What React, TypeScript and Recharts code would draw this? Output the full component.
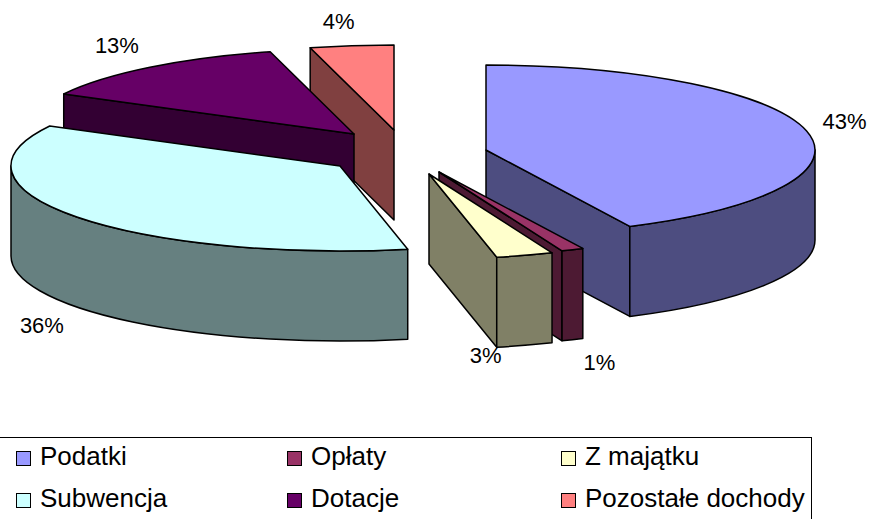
import React from "react";
import { PieChart, Pie, Legend } from "recharts";

const categories = ["Podatki", "Opłaty", "Z majątku", "Subwencja", "Dotacje", "Pozostałe dochody"];
const shares = [42.8, 1.1, 2.8, 36.1, 13.1, 4.1];
const topColors = ["#9999FF", "#993366", "#FFFFCC", "#CCFFFF", "#660066", "#FF8080"];
const wallColors = ["#4D4D80", "#4D1A33", "#808066", "#668080", "#330033", "#804040"];

// Explosion of each slice from the pie's centre, and label placement relative to the rim.
const explodeX = [86, 39, 29, -60, -46, -6];
const explodeY = [0, 22, 24, 16, -16, -20];
const labelShiftX = [38, 27, -39, -35, -33, -13];
const labelShiftY = [-2, 120, 108, 116, -14, -17];
// Back-to-front painting order of the slices.
const paintOrder = [5, 4, 3, 0, 1, 2];

const WIDTH = 869;
const HEIGHT = 519;
const CX = 400;
const CY = 150;
const RADIUS = 329;
const TILT = 85 / 329;
const DEPTH = 90;
const table = categories.map((name, i) => ({ name, value: shares[i] }));
const rad = (d: number) => (d * Math.PI) / 180;

function Slice({ props, i }: { props: any; i: number }) {
  const cx = props.cx + explodeX[i];
  const cy = props.cy + explodeY[i];
  const rx = props.outerRadius;
  const ry = rx * TILT;
  const ts = 90 - props.startAngle;
  const te = 90 - props.endAngle;
  const px = (t: number) => cx + rx * Math.sin(rad(t));
  const py = (t: number) => cy - ry * Math.cos(rad(t));
  const stroke = { stroke: "#000", strokeWidth: 1.5, strokeLinejoin: "round" as const };
  const face = (t: number) =>
    `M${cx},${cy}L${px(t)},${py(t)}L${px(t)},${py(t) + DEPTH}L${cx},${cy + DEPTH}Z`;
  const wallStart = Math.max(ts, 90);
  const wallEnd = Math.min(te, 270);
  return (
    <g>
      {Math.sin(rad(ts)) < -1e-6 && <path d={face(ts)} fill={wallColors[i]} {...stroke} />}
      {Math.sin(rad(te)) > 1e-6 && <path d={face(te)} fill={wallColors[i]} {...stroke} />}
      {wallEnd > wallStart && (
        <path
          d={`M${px(wallStart)},${py(wallStart)}A${rx},${ry} 0 0 1 ${px(wallEnd)},${py(wallEnd)}L${px(wallEnd)},${py(wallEnd) + DEPTH}A${rx},${ry} 0 0 0 ${px(wallStart)},${py(wallStart) + DEPTH}Z`}
          fill={wallColors[i]}
          {...stroke}
        />
      )}
      <path
        d={`M${cx},${cy}L${px(ts)},${py(ts)}A${rx},${ry} 0 ${te - ts > 180 ? 1 : 0} 1 ${px(te)},${py(te)}Z`}
        fill={topColors[i]}
        {...stroke}
      />
    </g>
  );
}

function percentLabel(p: any) {
  const i = categories.indexOf(p.name);
  const t = 90 - p.midAngle;
  const x = p.cx + explodeX[i] + p.outerRadius * Math.sin(rad(t)) + labelShiftX[i];
  const y = p.cy + explodeY[i] - p.outerRadius * TILT * Math.cos(rad(t)) + labelShiftY[i];
  return (
    <text key={p.name} x={x} y={y} textAnchor="middle" fontFamily="'Liberation Sans', Arial, sans-serif" fontSize={22} fill="#000">
      {`${Math.round(p.percent * 100)}%`}
    </text>
  );
}

function LegendBox() {
  const columns = [16, 287, 561];
  const rows = [451, 493];
  return (
    <div style={{ position: "relative", width: 812, height: 90, boxSizing: "border-box", borderTop: "1.5px solid #000", borderRight: "1.5px solid #000", fontFamily: "'Liberation Sans', Arial, sans-serif", fontSize: 26, color: "#000" }}>
      {categories.map((name, i) => {
        const left = columns[i % 3];
        const top = rows[Math.floor(i / 3)] - 437;
        return (
          <div key={name}>
            <div style={{ position: "absolute", left, top: top - 1, width: 15, height: 15, boxSizing: "border-box", background: topColors[i], border: "1.5px solid #000" }} />
            <div style={{ position: "absolute", left: left + 24, top: top - 11, lineHeight: "30px", whiteSpace: "nowrap" }}>{name}</div>
          </div>
        );
      })}
    </div>
  );
}

export default function App() {
  return (
    <div style={{ position: "absolute", left: 0, top: 0, width: WIDTH, height: HEIGHT, overflow: "hidden", background: "#fff" }}>
      <PieChart width={WIDTH} height={HEIGHT} margin={{ top: 0, right: 0, bottom: 0, left: 0 }}>
        {paintOrder.map((i) => (
          <Pie
            key={categories[i]}
            data={table}
            dataKey="value"
            nameKey="name"
            cx={CX}
            cy={CY}
            outerRadius={RADIUS}
            startAngle={90}
            endAngle={-270}
            stroke="none"
            isAnimationActive={false}
            shape={(props: any) => (categories.indexOf(props.name) === i ? <Slice props={props} i={i} /> : <g />)}
          />
        ))}
        <Pie
          data={table}
          dataKey="value"
          nameKey="name"
          cx={CX}
          cy={CY}
          outerRadius={RADIUS}
          startAngle={90}
          endAngle={-270}
          isAnimationActive={false}
          shape={() => <g />}
          label={percentLabel}
          labelLine={false}
        />
        <Legend
          content={() => <LegendBox />}
          wrapperStyle={{ position: "absolute", left: 0, top: 437, width: 812, height: 90 }}
        />
      </PieChart>
    </div>
  );
}
